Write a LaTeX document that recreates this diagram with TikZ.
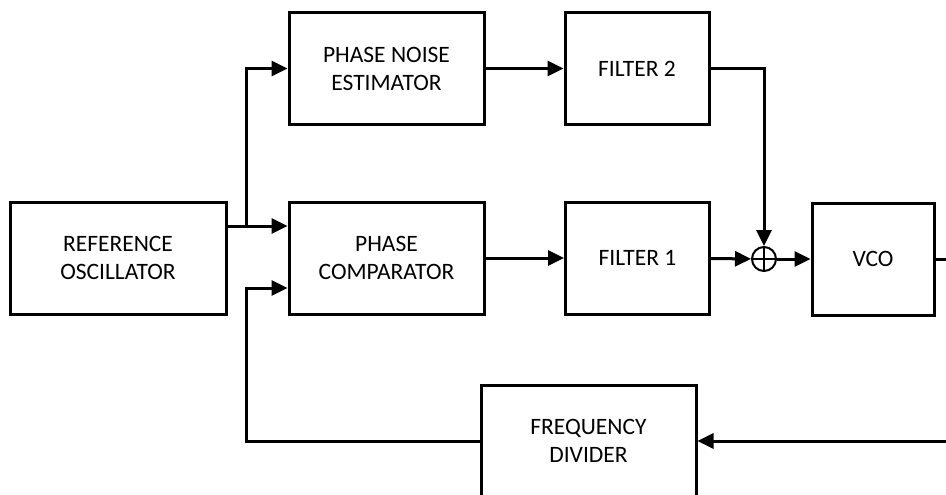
\documentclass[tikz,border=0pt]{standalone}
\usepackage{fontspec}
\setmainfont{Carlito}
\usetikzlibrary{arrows.meta}
\begin{document}
\begin{tikzpicture}[
        x=1pt, y=-1pt,
        every node/.style={font=\fontsize{23.5}{28}\selectfont, align=center, inner sep=0pt},
        block/.style={draw, line width=3pt, minimum height=112pt},
        adder/.style={draw, circle, line width=2pt, minimum size=24pt,
            path picture={\draw[line width=2pt]
                (path picture bounding box.north) -- (path picture bounding box.south)
                (path picture bounding box.west) -- (path picture bounding box.east);}},
        link/.style={line width=3pt},
        arrow/.style={link, -{Triangle[length=16pt,width=15pt]}},
    ]
    \clip (0,0) rectangle (946,495);
    % blocks
    \node[block, minimum width=216pt](ref) at (118,258){REFERENCE\\OSCILLATOR};
    \node[block, minimum width=195pt](pne) at (386.5,68.5){PHASE NOISE\\ESTIMATOR};
    \node[block, minimum width=144pt](f2) at (637,68.5){FILTER 2};
    \node[block, minimum width=195pt](pc) at (386.5,258){PHASE\\COMPARATOR};
    \node[block, minimum width=144pt](f1) at (637.5,258){FILTER 1};
    \node[adder](sum) at (764,259){};
    \node[block, minimum width=122pt](vco) at (873,259){VCO};
    \node[block, minimum width=215pt](div) at (588.5,441){FREQUENCY\\DIVIDER};
    % junctions
    \coordinate (split) at (246,226);
    \coordinate (fb) at (246,441);
    \coordinate (out) at (950,259);
    % connectors
    \draw[link] ([yshift=32pt]ref.east) -- (split);
    \draw[arrow] (split) -- ([yshift=32pt]pc.west);
    \draw[arrow] (split) |- (pne.west);
    \draw[arrow] (pne) -- (f2);
    \draw[arrow] (pc) -- (f1);
    \draw[arrow] (f2.east) -| (sum.north);
    \draw[arrow] (f1) -- (sum);
    \draw[arrow] (sum) -- (vco);
    \draw[arrow] (vco.east) -- (out) |- (div.east);
    \draw[arrow] (div.west) -- (fb) |- ([yshift=-30pt]pc.west);
\end{tikzpicture}
\end{document}
